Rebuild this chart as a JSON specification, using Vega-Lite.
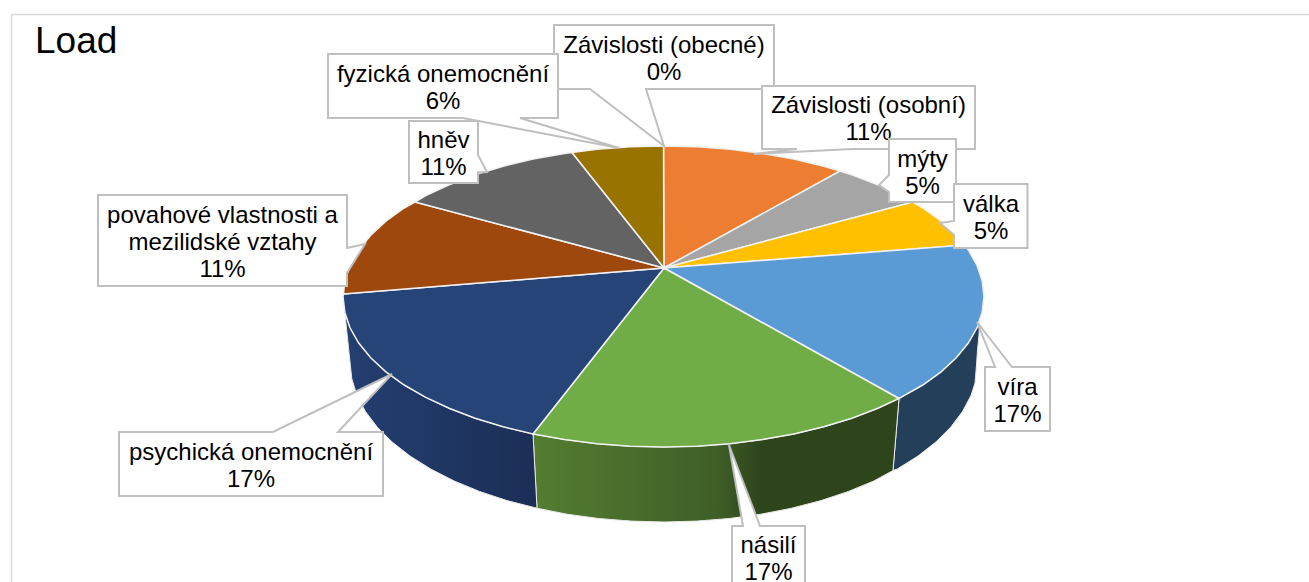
{
"$schema":"https://vega.github.io/schema/vega-lite/v6.json",
"width":1309,"height":582,"autosize":"none","padding":0,"background":"white",
"projection":{"type":"identity","scale":1,"translate":[0,0]},
"datasets":{
"frame":[{"type":"Feature","properties":{"name":"frame"},"geometry":{"type":"LineString","coordinates":[[1309,14.5],[11.5,14.5],[11.5,582]]}}],
"walls":[
{"type":"Feature","properties":{"name":"víra"},"geometry":{"type":"Polygon","coordinates":[[[899,398.5],[922.8,385],[941.1,371.8],[956.3,357.7],[968.3,343],[977,327.8],[979.5,322],[979,335],[977.5,350],[976.5,365],[975,383],[971.1,395.3],[962.6,411.4],[950.8,427.1],[935.9,442],[918,456],[897.3,469],[893,470.5],[899,398.5]]]}},
{"type":"Feature","properties":{"name":"násilí"},"geometry":{"type":"Polygon","coordinates":[[[899,398.5],[877.9,408.3],[851.9,418.3],[823.8,426.8],[793.9,434],[762.5,439.6],[730.1,443.7],[697,446.2],[663.5,447],[630,446.2],[596.9,443.7],[564.5,439.6],[533,434],[537,508.2],[567,514.2],[598.7,518.5],[631.2,521.1],[664,522],[696.8,521.1],[729.3,518.5],[761,514.2],[791.7,508.2],[821,500.6],[848.6,491.4],[874,480.9],[893,470.5],[899,398.5]]]}},
{"type":"Feature","properties":{"name":"psychická onemocnění"},"geometry":{"type":"Polygon","coordinates":[[[533,434],[503.2,426.8],[475.1,418.3],[449.1,408.3],[425.3,397.2],[404.2,385],[385.9,371.8],[370.7,357.7],[358.7,343],[350,327.8],[344.8,312.2],[350,362],[351.8,378.7],[356.9,395.3],[365.4,411.4],[377.2,427.1],[392.1,442],[410,456],[430.7,469],[454,480.9],[479.4,491.4],[507,500.6],[537,508.2],[533,434]]]}}
],
"slices":[
{"type":"Feature","properties":{"name":"Závislosti (osobní)","value":11},"geometry":{"type":"Polygon","coordinates":[[[664,268],[663.5,146],[697,146.8],[730.1,149.3],[762.5,153.4],[793.9,159],[823.8,166.2],[840,171],[664,268]]]}},
{"type":"Feature","properties":{"name":"mýty","value":5},"geometry":{"type":"Polygon","coordinates":[[[664,268],[840,171],[851.9,174.7],[877.9,184.7],[901.7,195.8],[913,202],[664,268]]]}},
{"type":"Feature","properties":{"name":"válka","value":5},"geometry":{"type":"Polygon","coordinates":[[[664,268],[913,202],[922.8,208],[941.1,221.2],[956.3,235.3],[965,245],[664,268]]]}},
{"type":"Feature","properties":{"name":"víra","value":17},"geometry":{"type":"Polygon","coordinates":[[[664,268],[965,245],[968.3,250],[977,265.2],[982.2,280.8],[984,296.5],[982.2,312.2],[977,327.8],[968.3,343],[956.3,357.7],[941.1,371.8],[922.8,385],[899,398.5],[664,268]]]}},
{"type":"Feature","properties":{"name":"násilí","value":17},"geometry":{"type":"Polygon","coordinates":[[[664,268],[899,398.5],[877.9,408.3],[851.9,418.3],[823.8,426.8],[793.9,434],[762.5,439.6],[730.1,443.7],[697,446.2],[663.5,447],[630,446.2],[596.9,443.7],[564.5,439.6],[533,434],[664,268]]]}},
{"type":"Feature","properties":{"name":"psychická onemocnění","value":17},"geometry":{"type":"Polygon","coordinates":[[[664,268],[533,434],[503.2,426.8],[475.1,418.3],[449.1,408.3],[425.3,397.2],[404.2,385],[385.9,371.8],[370.7,357.7],[358.7,343],[350,327.8],[344.8,312.2],[343,296.5],[343.5,294],[664,268]]]}},
{"type":"Feature","properties":{"name":"povahové vlastnosti a mezilidské vztahy","value":11},"geometry":{"type":"Polygon","coordinates":[[[664,268],[343.5,294],[344.8,280.8],[350,265.2],[358.7,250],[370.7,235.3],[385.9,221.2],[404.2,208],[415,202],[664,268]]]}},
{"type":"Feature","properties":{"name":"hněv","value":11},"geometry":{"type":"Polygon","coordinates":[[[664,268],[415,202],[425.3,195.8],[449.1,184.7],[475.1,174.7],[503.2,166.2],[533.1,159],[564.5,153.4],[572,152.5],[664,268]]]}},
{"type":"Feature","properties":{"name":"fyzická onemocnění","value":6},"geometry":{"type":"Polygon","coordinates":[[[664,268],[572,152.5],[596.9,149.3],[630,146.8],[663.5,146],[664,268]]]}}
],
"callouts":[
{"type":"Feature","properties":{"tier":"a","label":"Závislosti (obecné)\n0%","cx":664,"cy":46},"geometry":{"type":"Polygon","coordinates":[[[554,25],[774,25],[774,89],[646,89],[664,146],[590,89],[554,89],[554,25]]]}},
{"type":"Feature","properties":{"tier":"a","label":"Závislosti (osobní)\n11%","cx":868.5,"cy":106},"geometry":{"type":"Polygon","coordinates":[[[762,86],[975,86],[975,149],[852,149],[754,154],[797,149],[762,149],[762,86]]]}},
{"type":"Feature","properties":{"tier":"a","label":"fyzická onemocnění\n6%","cx":443,"cy":75},"geometry":{"type":"Polygon","coordinates":[[[328,54],[558,54],[558,118],[520,118],[619,148],[463,118],[328,118],[328,54]]]}},
{"type":"Feature","properties":{"tier":"a","label":"hněv\n11%","cx":443.5,"cy":141},"geometry":{"type":"Polygon","coordinates":[[[409,121],[478,121],[478,155],[487,172],[478,172.5],[478,183],[409,183],[409,121]]]}},
{"type":"Feature","properties":{"tier":"a","label":"povahové vlastnosti a\nmezilidské vztahy\n11%","cx":222.5,"cy":216},"geometry":{"type":"Polygon","coordinates":[[[98,195],[347,195],[347,248],[365,244],[347,273],[347,286],[98,286],[98,195]]]}},
{"type":"Feature","properties":{"tier":"a","label":"víra\n17%","cx":1017.5,"cy":388},"geometry":{"type":"Polygon","coordinates":[[[985,367],[995,367],[977,322],[1012,367],[1050,367],[1050,431],[985,431],[985,367]]]}},
{"type":"Feature","properties":{"tier":"a","label":"násilí\n17%","cx":768.5,"cy":546},"geometry":{"type":"Polygon","coordinates":[[[732,526],[743,526],[729,445],[760,526],[805,526],[805,592],[732,592],[732,526]]]}},
{"type":"Feature","properties":{"tier":"a","label":"psychická onemocnění\n17%","cx":251,"cy":453},"geometry":{"type":"Polygon","coordinates":[[[119,432],[273,432],[392,374],[338,432],[383,432],[383,496],[119,496],[119,432]]]}},
{"type":"Feature","properties":{"tier":"b","label":"mýty\n5%","cx":922.5,"cy":160},"geometry":{"type":"Polygon","coordinates":[[[889,139],[956,139],[956,202],[889,202],[889,192],[879,185],[889,175],[889,139]]]}},
{"type":"Feature","properties":{"tier":"b","label":"válka\n5%","cx":991,"cy":205},"geometry":{"type":"Polygon","coordinates":[[[954,184],[1027.5,184],[1027.5,248],[954,248],[954,235],[940,223],[954,221],[954,184]]]}}
],
"title":[{"text":"Load","lon":35,"lat":42}]
},
"layer":[
{"data":{"name":"frame"},"mark":{"type":"geoshape","filled":false,"stroke":"#d9d9d9","strokeWidth":1.5}},
{"data":{"name":"walls"},"transform":[{"filter":"datum.properties.name==='víra'"}],"mark":{"type":"geoshape","fill":"#243f5a","stroke":"#e8e8e8","strokeWidth":1}},
{"data":{"name":"walls"},"transform":[{"filter":"datum.properties.name==='násilí'"}],"mark":{"type":"geoshape","stroke":"#e8e8e8","strokeWidth":1,"fill":{"gradient":"linear","x1":0,"x2":1,"y1":0,"y2":0,"stops":[{"offset":0,"color":"#547d31"},{"offset":0.5,"color":"#3f5f27"},{"offset":0.62,"color":"#2e451c"},{"offset":1,"color":"#2e451c"}]}}},
{"data":{"name":"walls"},"transform":[{"filter":"datum.properties.name==='psychická onemocnění'"}],"mark":{"type":"geoshape","stroke":"#e8e8e8","strokeWidth":1,"fill":{"gradient":"linear","x1":0,"x2":1,"y1":0,"y2":0,"stops":[{"offset":0,"color":"#233f70"},{"offset":1,"color":"#1b2e56"}]}}},
{"data":{"name":"slices"},"mark":{"type":"geoshape","stroke":"#f2f2f2","strokeWidth":1.5},"encoding":{"color":{"field":"properties.name","type":"nominal","legend":null,"scale":{"domain":["Závislosti (osobní)","mýty","válka","víra","násilí","psychická onemocnění","povahové vlastnosti a mezilidské vztahy","hněv","fyzická onemocnění"],"range":["#ed7d31","#a5a5a5","#ffc000","#5b9bd5","#70ad47","#264478","#9e480e","#636363","#997300"]}}}},
{"data":{"name":"callouts"},"transform":[{"filter":"datum.properties.tier==='a'"}],"mark":{"type":"geoshape","fill":"white","stroke":"#bfbfbf","strokeWidth":2}},
{"data":{"name":"callouts"},"transform":[{"filter":"datum.properties.tier==='a'"}],"mark":{"type":"text","font":"Liberation Sans","fontSize":24,"lineHeight":27,"lineBreak":"\n","align":"center","baseline":"middle","color":"black"},"encoding":{"longitude":{"field":"properties.cx","type":"quantitative"},"latitude":{"field":"properties.cy","type":"quantitative"},"text":{"field":"properties.label","type":"nominal"}}},
{"data":{"name":"callouts"},"transform":[{"filter":"datum.properties.tier==='b'"}],"mark":{"type":"geoshape","fill":"white","stroke":"#bfbfbf","strokeWidth":2}},
{"data":{"name":"callouts"},"transform":[{"filter":"datum.properties.tier==='b'"}],"mark":{"type":"text","font":"Liberation Sans","fontSize":24,"lineHeight":27,"lineBreak":"\n","align":"center","baseline":"middle","color":"black"},"encoding":{"longitude":{"field":"properties.cx","type":"quantitative"},"latitude":{"field":"properties.cy","type":"quantitative"},"text":{"field":"properties.label","type":"nominal"}}},
{"data":{"name":"title"},"mark":{"type":"text","font":"Liberation Sans","fontSize":37,"align":"left","baseline":"middle","color":"black"},"encoding":{"longitude":{"field":"lon","type":"quantitative"},"latitude":{"field":"lat","type":"quantitative"},"text":{"field":"text","type":"nominal"}}}
]
}
